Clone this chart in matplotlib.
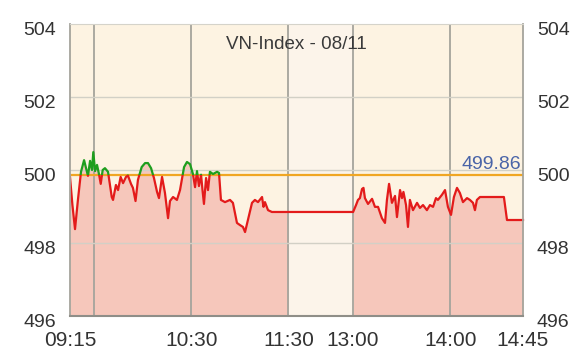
import matplotlib
matplotlib.use("Agg")
import matplotlib.pyplot as plt
import matplotlib.transforms as mtransforms
from matplotlib.patches import Rectangle
import numpy as np

plt.rcParams['font.family'] = ['Liberation Sans', 'DejaVu Sans']

# minutes after 09:15 (wall clock), lunch break 11:30-13:00
minutes = [0, 1.5, 3.1, 4.9, 6.8, 8.7, 10.2, 11.1, 12.4, 13.6, 14.4, 15.5, 16.7,
           17.9, 19.0, 20.2, 21.6, 23.5, 25.8, 26.6, 28.4, 29.7, 31.3, 32.8, 34.6,
           35.8, 37.7, 38.9, 40.5, 42.0, 44.3, 46.4, 48.2, 50.1, 51.9, 53.8, 55.0,
           56.9, 58.7, 60.6, 61.8, 63.7, 66.1, 68.0, 69.2, 70.5, 72.3, 74.2, 76.0,
           77.3, 78.5, 79.7, 81.0, 81.9, 82.8, 84.1, 85.3, 86.5, 88.4, 90.9, 92.1,
           93.3, 95.8, 98.9, 100.7, 103.2, 105.1, 106.9, 108.2, 110.0, 112.5, 114.3,
           116.2, 118.7, 119.6, 120.5, 122.4, 124.8, 135,
           225, 226.8, 228.0, 229.2, 230.5, 231.4, 232.3, 234.2, 236.7, 238.5, 240.4,
           242.8, 244.7, 245.9, 247.2, 249.0, 250.9, 252.1, 254.0, 255.2, 256.1,
           257.7, 258.9, 260.1, 262.0, 264.5, 266.3, 268.2, 270.6, 272.5, 274.4,
           276.2, 277.4, 279.9, 281.8, 283.6, 285.5, 287.3, 289.2, 291.0, 292.9,
           295.4, 297.2, 299.1, 300.3, 301.5, 303.4, 305.3, 318.2, 320.1, 330]
prices = [499.81, 499.04, 498.38, 499.18, 499.95, 500.27, 500.00, 499.84, 500.25,
          500.00, 500.49, 499.97, 500.14, 499.89, 499.62, 500.00, 500.05, 499.95,
          499.26, 499.18, 499.59, 499.45, 499.81, 499.64, 499.81, 499.85, 499.62,
          499.51, 499.15, 499.73, 500.08, 500.19, 500.19, 500.05, 499.78, 499.40,
          499.23, 499.81, 499.37, 498.68, 499.15, 499.26, 499.18, 499.45, 499.75,
          500.08, 500.22, 500.16, 499.89, 499.53, 499.97, 499.56, 499.87, 499.45,
          499.07, 499.78, 499.45, 499.95, 499.89, 499.95, 499.92, 499.18, 499.12,
          499.18, 499.10, 498.55, 498.49, 498.44, 498.30, 498.63, 499.10, 499.18,
          499.12, 499.26, 498.99, 499.12, 498.90, 498.85, 498.85,
          498.85, 499.04, 499.18, 499.23, 499.48, 499.51, 499.23, 499.07, 499.21,
          498.99, 498.99, 498.68, 498.55, 499.18, 499.62, 499.10, 499.29, 498.71,
          499.45, 499.23, 499.40, 499.04, 498.44, 499.18, 498.90, 499.10, 498.96,
          499.04, 498.90, 499.04, 498.99, 499.23, 499.18, 499.32, 499.45, 498.99,
          498.77, 499.26, 499.51, 499.37, 499.12, 499.23, 499.18, 499.10, 498.90,
          499.18, 499.26, 499.26, 499.26, 498.63, 498.63]

ref_price = 499.86
title = "VN-Index - 08/11"
tick_labels = ["09:15", "10:30", "11:30", "13:00", "14:00", "14:45"]
tick_minutes = [0, 75, 135, 225, 285, 330]
grid_minutes = [15, 75, 135, 225, 285]
y_ticks = [496, 498, 500, 502, 504]

LUNCH_START, LUNCH_END, LUNCH_WIDTH = 135, 225, 40


def to_pos(t):
    # squeeze the lunch break down to a narrow band
    t = np.asarray(t, dtype=float)
    return np.where(t <= LUNCH_START, t, t - (LUNCH_END - LUNCH_START) + LUNCH_WIDTH)


x = to_pos(minutes)
y = np.array(prices)

fig = plt.figure(figsize=(5.77, 3.59), dpi=100)
ax = fig.add_axes([70 / 577, 43 / 359, 453 / 577, 292 / 359])
ax.set_facecolor('#fdf3e2')
ax.set_xlim(0, to_pos(330))
ax.set_ylim(496, 504)

# lunch band
lunch_a, lunch_b = to_pos(LUNCH_START), to_pos(LUNCH_END)
ax.axvspan(lunch_a, lunch_b, color='#fcf4ea', zorder=0)

# area fill, skipping the lunch break
am = x <= lunch_a
pm = x >= lunch_b
ax.fill_between(x[am], 496, y[am], color='#f6c7bb', lw=0, zorder=1)
ax.fill_between(x[pm], 496, y[pm], color='#f6c7bb', lw=0, zorder=1)

# grid
for g in to_pos(grid_minutes):
    ax.axvline(g, color='#a5a49c', lw=1.3, zorder=2)
for v in y_ticks[1:-1]:
    ax.axhline(v, color='#d2d0c6', lw=1.0, zorder=2)

ax.axhline(ref_price, color='#f0a623', lw=1.6, zorder=3)

# price line: green above reference, red below
red, = ax.plot(x, y, color='#e31b1b', lw=1.6, zorder=4)
green, = ax.plot(x, y, color='#1e9e1e', lw=1.6, zorder=4)
red.set_clip_path(Rectangle((0, 496), 400, ref_price - 496, transform=ax.transData))
green.set_clip_path(Rectangle((0, ref_price), 400, 10, transform=ax.transData))

ax.text(0.5, 0.93, title, transform=ax.transAxes, ha='center', va='center',
        fontsize=13.5, color='#3a3a3a')
ax.text(0.995, ref_price + 0.05, f"{ref_price:.2f}", transform=ax.get_yaxis_transform(),
        ha='right', va='bottom', fontsize=14, color='#4a64a8')

ax.set_xticks(to_pos(tick_minutes))
ax.set_xticklabels(tick_labels)
ax.set_yticks(y_ticks)
ax.tick_params(axis='x', length=0, pad=11, labelsize=15, colors='#333333')
ax.tick_params(axis='y', length=0, pad=10, labelsize=14, colors='#333333',
               left=True, right=True, labelleft=True, labelright=True)
shift = mtransforms.ScaledTranslation(0, -3 / 72, fig.dpi_scale_trans)
for tick in ax.yaxis.get_major_ticks():
    for lab in (tick.label1, tick.label2):
        lab.set_transform(lab.get_transform() + shift)

for side in ['left', 'right']:
    ax.spines[side].set_color('#a5a49c')
    ax.spines[side].set_linewidth(1.3)
ax.spines['top'].set_color('#d5d3ca')
ax.spines['bottom'].set_color('#8f8e88')
ax.spines['bottom'].set_linewidth(1.5)
for s in ax.spines.values():
    s.set_zorder(5)

fig.savefig("out.png", dpi=100)
